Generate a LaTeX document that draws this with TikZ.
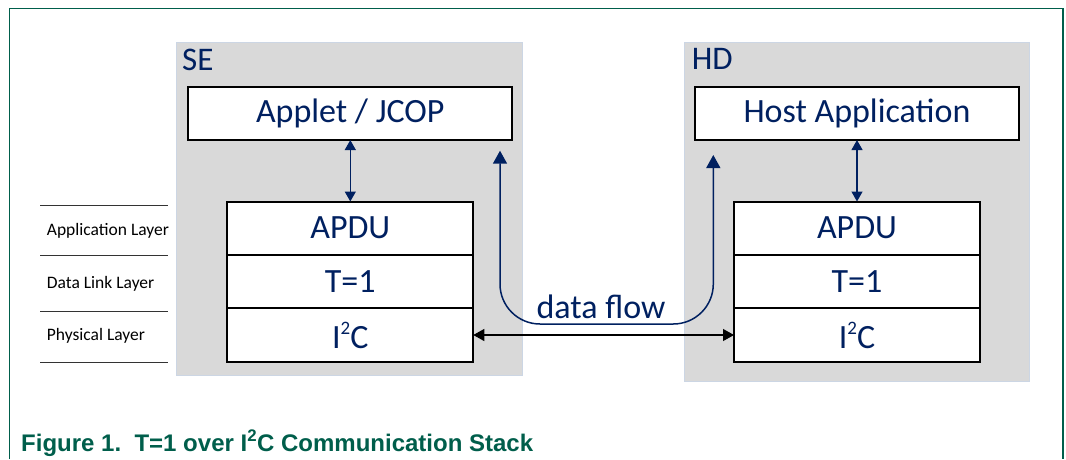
\documentclass[tikz,border=0pt]{standalone}
\usepackage{fontspec}
\setmainfont{Carlito}
\newfontfamily\capfont{Liberation Sans}
\usetikzlibrary{arrows.meta,positioning}
\definecolor{TextClr}{RGB}{0,32,96}
\definecolor{FrameClr}{RGB}{0,94,75}
\definecolor{PanelClr}{RGB}{217,217,217}
\definecolor{EdgeClr}{RGB}{204,214,228}
\newcommand{\sqtwo}{\raisebox{14pt}{\fontsize{19}{20}\selectfont 2}}

\begin{document}
\begin{tikzpicture}[x=1pt,y=-1pt,
  panel/.style={draw=EdgeClr,fill=PanelClr,line width=1pt,anchor=north west,inner sep=0pt},
  blk/.style={draw=black,fill=white,line width=2pt,outer sep=0pt,inner sep=0pt,text=TextClr,font=\fontsize{34}{40}\selectfont},
  layer/.style={blk,minimum width=246pt,minimum height=53.4pt},
  app/.style={blk,minimum width=324pt,minimum height=53.3pt},
  tag/.style={text=TextClr,font=\fontsize{33}{40}\selectfont,anchor=base west,inner sep=0pt},
  lvl/.style={font=\fontsize{17.5}{20}\selectfont,anchor=base west,inner sep=0pt},
  link/.style={draw=TextClr,line width=1.3pt,{Triangle[length=10pt,width=11pt]}-{Triangle[length=10pt,width=11pt]}},
  flow/.style={draw=TextClr,line width=1.5pt,rounded corners=40pt,{Triangle[length=13pt,width=14pt]}-{Triangle[length=13pt,width=14pt]}},
  wire/.style={draw=black,line width=1.2pt,{Triangle[length=11pt,width=12pt]}-{Triangle[length=11pt,width=12pt]}}]
\useasboundingbox (0,0) rectangle (1066,459);

\draw[FrameClr,line width=1.3pt] (9.3,459) |- (1063,8.3) -- (1063,459);

\node[panel,minimum width=346pt,minimum height=332.7pt] (se) at (175.7,42.3) {};
\node[panel,minimum width=345.3pt,minimum height=338.7pt] (hd) at (684,42.3) {};
\node[tag] (setag) at (182,70) {SE};
\node[tag] (hdtag) at (691.7,69.3) {HD};

\node[app] (applet) at (350.3,113.4) {Applet / JCOP};
\node[app] (host) at (857,113.4) {Host Application};

\node[layer,anchor=north] (seapdu) at (350.3,201.5) {APDU};
\node[layer,below=0pt of seapdu] (set1) {T=1};
\node[layer,below=0pt of set1] (sei2c) {I\sqtwo C};

\node[layer,anchor=north] (hdapdu) at (857,201.5) {APDU};
\node[layer,below=0pt of hdapdu] (hdt1) {T=1};
\node[layer,below=0pt of hdt1] (hdi2c) {I\sqtwo C};

\draw[link] (applet) -- (seapdu);
\draw[link] (host) -- (hdapdu);
\draw[wire] (sei2c) -- (hdi2c);

\coordinate (seup) at (500,150.7);
\coordinate (hdup) at (713.3,155);
\coordinate (dip) at (606.6,324);
\draw[flow] (seup) |- (hdup |- dip) -- (hdup);
\node[text=TextClr,font=\fontsize{34}{40}\selectfont,anchor=base,inner sep=0pt] (flowlbl) at (601,318) {data flow};

\foreach \y in {205,255.3,311,362}
  \draw[black!80,line width=1pt] (40,\y) -- (168.3,\y);
\node[lvl] (applvl) at (46.7,235) {Application Layer};
\node[lvl] (dllvl) at (46.7,288.3) {Data Link Layer};
\node[lvl] (phylvl) at (46.7,340) {Physical Layer};

\node[font=\capfont\bfseries\fontsize{24}{28}\selectfont,text=FrameClr,anchor=base west,inner sep=0pt] (caption) at (21,451) {Figure 1.\ \ T=1 over I\textsuperscript{2}C Communication Stack};

\end{tikzpicture}
\end{document}
